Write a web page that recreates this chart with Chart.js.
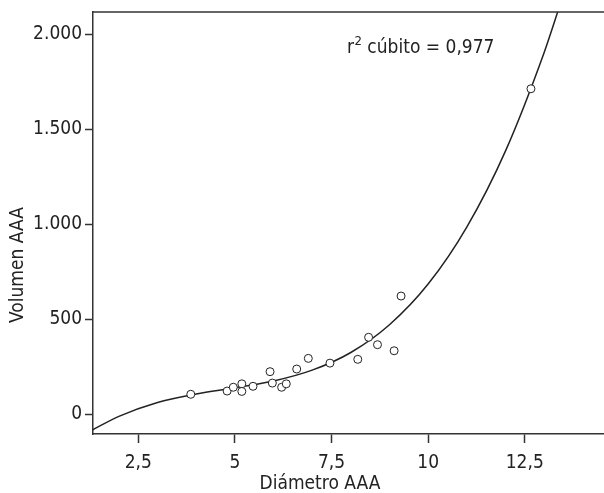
<!DOCTYPE html>
<html>
<head>
<meta charset="utf-8">
<script src="https://cdn.jsdelivr.net/npm/chart.js@4/dist/chart.umd.min.js"></script>
<style>
  html, body { margin: 0; padding: 0; background: #fff; }
  #wrap { width: 604px; height: 493px; }
</style>
</head>
<body>
<div id="wrap"><canvas id="grafico"></canvas></div>
<script>
'use strict';

// Puntos observados (diámetro, volumen)
const diametros = [3.86, 4.80, 4.96, 5.18, 5.18, 5.47, 5.91, 5.97, 6.21, 6.33, 6.60, 6.90, 7.46, 8.18, 8.46, 8.69, 9.12, 9.30, 12.66];
const volumenes = [104, 121, 141, 159, 119, 146, 223, 163, 141, 159, 237, 293, 268, 288, 404, 365, 333, 621, 1712];

// Curva de ajuste cúbico
const curvaX = [1.3, 2, 3, 4, 5, 6, 7, 8, 9, 10, 11, 12, 13, 13.4];
const curvaY = [-85, -12, 61, 105, 138, 174, 231, 324, 470, 684, 984, 1384, 1902, 2146];

const ticksX = [2.5, 5, 7.5, 10, 12.5];
const ticksY = [0, 500, 1000, 1500, 2000];
const tituloX = 'Diámetro AAA';
const tituloY = 'Volumen AAA';
const textoR2 = 'cúbito = 0,977';

const fuente = '"Liberation Sans Narrow", "DejaVu Sans Condensed", "Liberation Sans", sans-serif';
const colorEje = '#333';
const colorTexto = '#222';

const puntos = diametros.map((d, i) => ({ x: d, y: volumenes[i] }));
const curva = curvaX.map((d, i) => ({ x: d, y: curvaY[i] }));

// Línea superior del marco, títulos de ejes y texto del r²
const marcoPlugin = {
    id: 'marco',
    afterDraw(chart) {
        const { ctx, chartArea, scales } = chart;
        ctx.save();
        ctx.strokeStyle = colorEje;
        ctx.lineWidth = 1.5;
        ctx.beginPath();
        ctx.moveTo(chartArea.left, chartArea.top);
        ctx.lineTo(chartArea.right, chartArea.top);
        ctx.stroke();

        ctx.fillStyle = colorTexto;
        ctx.font = '19px ' + fuente;

        // título eje x (el original está desplazado a la izquierda)
        ctx.textAlign = 'center';
        ctx.textBaseline = 'middle';
        ctx.fillText(tituloX, 320, 484);

        // título eje y
        ctx.save();
        ctx.translate(18, 265);
        ctx.rotate(-Math.PI / 2);
        ctx.fillText(tituloY, 0, 0);
        ctx.restore();

        // r² cúbito
        const x0 = scales.x.getPixelForValue(7.9);
        const y0 = scales.y.getPixelForValue(1900);
        ctx.textAlign = 'left';
        ctx.textBaseline = 'alphabetic';
        ctx.fillText('r', x0, y0);
        let w = ctx.measureText('r').width;
        ctx.font = '13px ' + fuente;
        ctx.fillText('2', x0 + w + 0.5, y0 - 8);
        w += ctx.measureText('2').width + 0.5;
        ctx.font = '19px ' + fuente;
        ctx.fillText(' ' + textoR2, x0 + w, y0);
        ctx.restore();
    }
};

function sinRelleno(s) {
    s.paddingLeft = 0;
    s.paddingRight = 0;
    s.paddingTop = 0;
    s.paddingBottom = 0;
}

const ctx = document.getElementById('grafico');

new Chart(ctx, {
    data: {
        datasets: [{
            type: 'scatter',
            data: puntos,
            pointStyle: 'circle',
            pointRadius: 4,
            pointBackgroundColor: '#fff',
            pointBorderColor: '#222',
            pointBorderWidth: 1,
            order: 0
        }, {
            type: 'line',
            data: curva,
            borderColor: '#222',
            borderWidth: 1.5,
            pointRadius: 0,
            fill: false,
            cubicInterpolationMode: 'monotone',
            order: 1
        }]
    },
    options: {
        responsive: true,
        maintainAspectRatio: false,
        animation: false,
        layout: { autoPadding: false, padding: { top: 12, right: 0, left: 0, bottom: 0 } },
        plugins: {
            legend: { display: false },
            tooltip: { enabled: false }
        },
        scales: {
            x: {
                type: 'linear',
                min: 1.33,
                max: 14.55,
                afterFit: (s) => {
                    s.height = 59;
                    sinRelleno(s);
                },
                afterBuildTicks: (s) => { s.ticks = ticksX.map(v => ({ value: v })); },
                ticks: {
                    padding: 9,
                    color: colorTexto,
                    font: { family: fuente, size: 19 },
                    callback: (v) => String(v).replace('.', ',')
                },
                grid: { display: true, drawOnChartArea: false, drawTicks: true, tickLength: 9, tickWidth: 1.5, tickColor: colorEje },
                border: { display: true, color: colorEje, width: 1.5 }
            },
            y: {
                type: 'linear',
                min: -105,
                max: 2116,
                afterFit: (s) => {
                    s.width = 93;
                    sinRelleno(s);
                },
                afterBuildTicks: (s) => { s.ticks = ticksY.map(v => ({ value: v })); },
                ticks: {
                    padding: 3,
                    color: colorTexto,
                    font: { family: fuente, size: 19 },
                    callback: (v) => v.toString().replace(/\B(?=(\d{3})+(?!\d))/g, '.')
                },
                grid: { display: true, drawOnChartArea: false, drawTicks: true, tickLength: 8, tickWidth: 1.5, tickColor: colorEje },
                border: { display: true, color: colorEje, width: 1.5 }
            }
        }
    },
    plugins: [marcoPlugin]
});
</script>
</body>
</html>
